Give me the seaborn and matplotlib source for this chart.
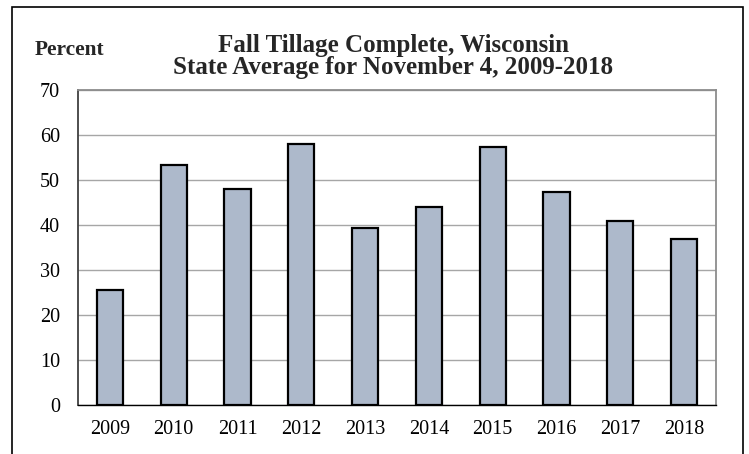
import matplotlib
matplotlib.use("Agg")
import matplotlib.pyplot as plt
import seaborn as sns
import numpy as np
import pandas as pd
from matplotlib.patches import Rectangle

years = ["2009", "2010", "2011", "2012", "2013", "2014", "2015", "2016", "2017", "2018"]
percent = [25.6, 53.3, 48.1, 58.0, 39.3, 44.1, 57.3, 47.4, 41.0, 37.0]
yticks = [0, 10, 20, 30, 40, 50, 60, 70]
title_lines = ["Fall Tillage Complete, Wisconsin", "State Average for November 4, 2009-2018"]

sns.set_theme(style="white")
plt.rcParams['font.family'] = ['Liberation Serif', 'DejaVu Serif']

fig = plt.figure(figsize=(7.49, 4.54), dpi=100)
ax = fig.add_axes([78/749, 1 - 405/454, (716 - 78)/749, (405 - 90)/454])

df = pd.DataFrame({"year": years, "percent": percent})
sns.barplot(data=df, x="year", y="percent", color="#adb9cb", edgecolor="black",
            linewidth=1.6, width=0.41, saturation=1, ax=ax, zorder=3)

ax.set_ylim(0, 70)
ax.set_xlim(-0.5, len(years) - 0.5)
ax.set_yticks(yticks)
ax.set_yticklabels([str(v) for v in yticks])
ax.yaxis.grid(True, color="#a6a6a6", linewidth=1.0, zorder=0)
ax.set_axisbelow(True)
ax.set_xlabel("")
ax.set_ylabel("")
ax.tick_params(axis="y", length=0, pad=13, labelsize=14.5, colors="black")
ax.tick_params(axis="x", which="major", length=0, pad=11, labelsize=14.5, colors="black")
ax.set_xticks(np.arange(-0.5, len(years)), minor=True)
ax.tick_params(axis="x", which="minor", length=6, width=1.0, color="black", direction="out")

for side in ["top", "right"]:
    ax.spines[side].set_color("#8c8c8c")
    ax.spines[side].set_linewidth(1.3)
ax.spines["left"].set_color("#404040")
ax.spines["left"].set_linewidth(1.3)
ax.spines["bottom"].set_color("black")
ax.spines["bottom"].set_linewidth(1.0)

fig.text(393/749, 1 - 52/454, title_lines[0], ha="center", va="baseline",
         fontsize=18, fontweight="bold")
fig.text(393/749, 1 - 74/454, title_lines[1], ha="center", va="baseline",
         fontsize=18, fontweight="bold")
fig.text(35/749, 1 - 55/454, "Percent", ha="left", va="baseline", fontsize=15.4, fontweight="bold")

fig.patches.append(Rectangle((12/749, -0.05), (743 - 12)/749, 1 - 7/454 + 0.05,
                             transform=fig.transFigure, fill=False, edgecolor="black",
                             linewidth=1.2, zorder=10))

fig.savefig("out.png", dpi=100)
